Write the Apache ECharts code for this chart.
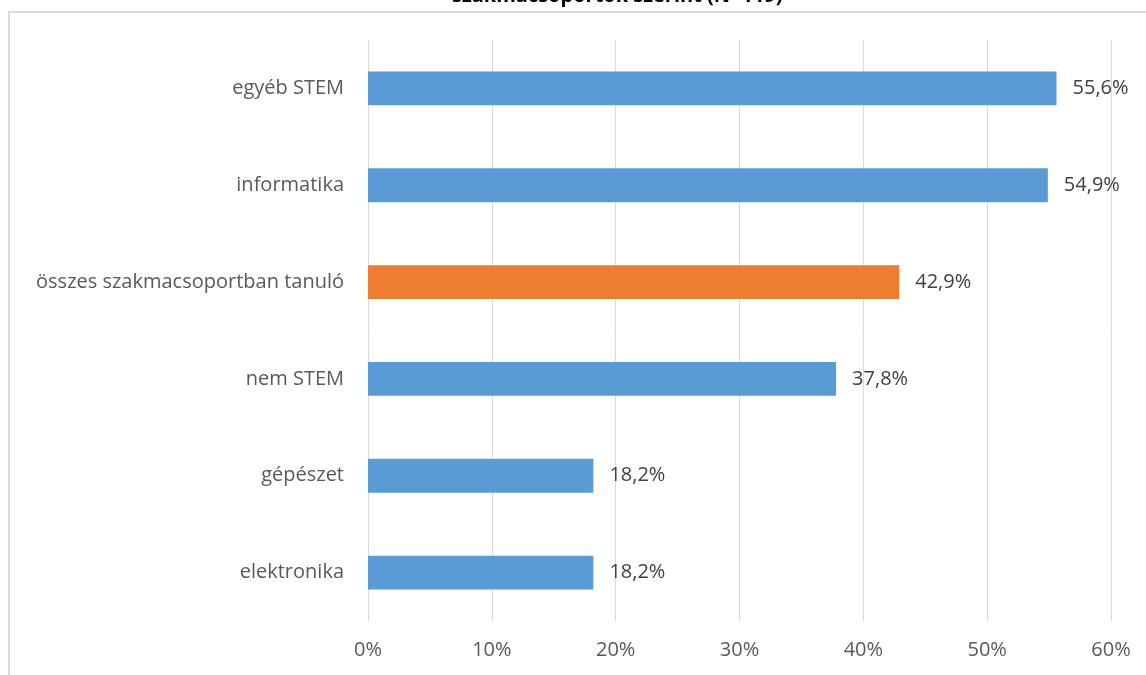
<!DOCTYPE html>
<html>
<head>
<meta charset="utf-8">
<script src="https://cdn.jsdelivr.net/npm/echarts@6/dist/echarts.min.js"></script>
<style>
  html, body { margin: 0; padding: 0; background: #ffffff; }
  #chart { width: 1146px; height: 675px; }
</style>
</head>
<body>
<div id="chart"></div>
<script>
// Categories listed bottom to top, as they appear on the category axis
const categories = ['elektronika', 'gépészet', 'nem STEM', 'összes szakmacsoportban tanuló', 'informatika', 'egyéb STEM'];
const values = [18.2, 18.2, 37.8, 42.9, 54.9, 55.6];
const highlightCategory = 'összes szakmacsoportban tanuló';
const tickLabels = ['0%', '10%', '20%', '30%', '40%', '50%', '60%'];

const blue = '#5B9BD5';
const orange = '#ED7D31';
const font = 'Open Sans';

const chart = echarts.init(document.getElementById('chart'));

chart.setOption({
  backgroundColor: '#ffffff',
  animation: false,
  title: {
    text: 'szakmacsoportok szerint (N=119)',
    left: 447,
    top: -19,
    textStyle: {
      fontFamily: font,
      fontWeight: 'bold',
      fontSize: 20,
      color: '#000000'
    }
  },
  graphic: [{
    type: 'rect',
    shape: { x: 9, y: 12, width: 1200, height: 800 },
    style: { fill: 'none', stroke: '#d9d9d9', lineWidth: 2 },
    silent: true,
    z: -1
  }],
  grid: {
    left: 368,
    right: 35,
    top: 40,
    bottom: 54,
    containLabel: false
  },
  xAxis: {
    type: 'value',
    min: 0,
    max: 60,
    interval: 10,
    axisLine: { show: false },
    axisTick: { show: false },
    splitLine: { lineStyle: { color: '#d9d9d9', width: 1 } },
    axisLabel: {
      margin: 19,
      color: '#595959',
      fontFamily: font,
      fontSize: 20,
      formatter: (v) => tickLabels[Math.round(v / 10)]
    }
  },
  yAxis: {
    type: 'category',
    data: categories,
    axisLine: { show: false },
    axisTick: { show: false },
    axisLabel: {
      margin: 24,
      color: '#595959',
      fontFamily: font,
      fontSize: 20
    }
  },
  series: [{
    type: 'bar',
    barWidth: '35%',
    data: values.map((v, i) => ({
      value: v,
      itemStyle: { color: categories[i] === highlightCategory ? orange : blue }
    })),
    label: {
      show: true,
      position: 'right',
      distance: 16,
      color: '#404040',
      fontFamily: font,
      fontSize: 20,
      formatter: (p) => p.value.toFixed(1).replace('.', ',') + '%'
    }
  }]
});
</script>
</body>
</html>
